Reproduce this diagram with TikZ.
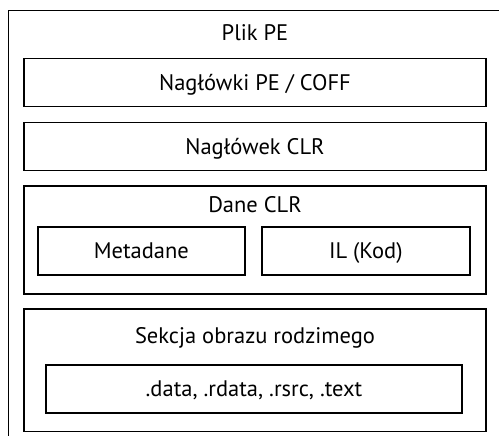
\documentclass[tikz,border=0pt]{standalone}
\usepackage{fontspec}
\setmainfont{PT Sans}
\begin{document}
\begin{tikzpicture}[x=1pt,y=-1pt,
  frame/.style={draw=black,line width=1.6pt,inner sep=0pt,outer sep=0pt},
  lbl/.style={inner sep=0pt,font=\fontsize{22.5}{22.5}\selectfont,anchor=base},
  boxtxt/.style={frame,font=\fontsize{22.5}{22.5}\selectfont,text height=15pt,text depth=0pt}]
\clip (0,0) rectangle (499,436);
\useasboundingbox (0,0) rectangle (499,436);
% outer container, running past the right and bottom edges
\node[frame,anchor=north west,minimum width=520pt,minimum height=460pt] (pe) at (8.5,10.5) {};
\node[lbl] (petitle) at (255,40.7) {Plik PE};
% headers
\node[boxtxt,minimum width=462pt,minimum height=48pt] (coff) at (255,82.6) {Nagłówki PE / COFF};
\node[boxtxt,minimum width=462pt,minimum height=48pt] (clrh) at (255,146.5) {Nagłówek CLR};
% CLR data
\node[frame,minimum width=462pt,minimum height=108pt] (clrd) at (255,240) {};
\node[lbl] (clrdt) at (255,213) {Dane CLR};
\node[boxtxt,minimum width=207pt,minimum height=48pt] (meta) at (141.3,250.8) {Metadane};
\node[boxtxt,minimum width=208pt,minimum height=48pt] (il) at (365.8,250.8) {IL (Kod)};
% native image section
\node[frame,minimum width=462pt,minimum height=122.5pt] (nat) at (255,370.3) {};
\node[lbl] (natt) at (255,343) {Sekcja obrazu rodzimego};
\node[boxtxt,minimum width=416.5pt,minimum height=48pt] (sec) at (254,389.2) {.data, .rdata, .rsrc, .text};
\end{tikzpicture}
\end{document}
